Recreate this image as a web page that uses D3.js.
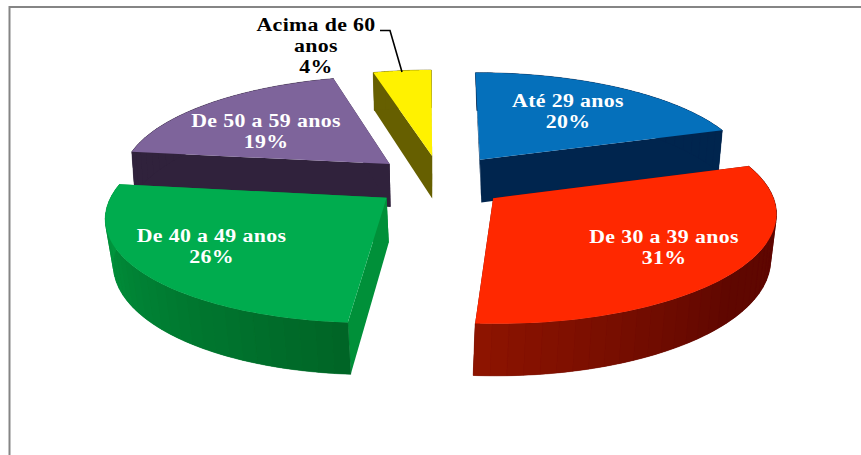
<!DOCTYPE html>
<html><head><meta charset="utf-8">
<style>html,body{margin:0;padding:0;background:#fff}svg{display:block}</style>
<script src="https://cdnjs.cloudflare.com/ajax/libs/d3/7.8.5/d3.min.js"></script>
</head><body><svg id="c" width="861" height="455"></svg>
<script>
// Data
const categories = ["Até 29 anos","De 30 a 39 anos","De 40 a 49 anos","De 50 a 59 anos","Acima de 60 anos"];
const shares = [20,31,26,19,4];
const explode = [0.2642,0.2583,0.2415,0.2524,0.2655];
// Colours
const topColors = ["#0570bb","#ff2800","#00ac4e","#7e649b","#fff200"];
const sideColors = ["#00254e","#650800","#009039","#30223c","#665f00"];
const bandDark = ["#00254e","#5f0700","#006426","#30223c","#665f00"];
const bandLight = ["#00254e","#8e1400","#009a40","#30223c","#665f00"];

const svg=d3.select("#c");
// Projection of the tilted pie plane
const P={cx:436.9,cy:182.4,rx:272.4,ry:103.9,pY:0.1327,pX:-0.0055,shear:3.86,depth:44};
// Small per-slice placement corrections of the exploded pieces
const nudge=[[1,-1],[0,-1],[2,-1],[2.5,-1.5],[3,0]];
const sliceShear=[-3,2,6,-6.5,-5];
const bottomVx=[544,323,490,512,437];
const bottomShrink=[0.978,0.987,0.979,0.992,0.984];
function project(X,Y){const w=1+P.pY*Y+P.pX*X;return {x:P.cx+(P.rx*X+P.shear*Y)/w,y:P.cy-P.ry*Y/w,w};}
const pie=d3.pie().sort(null).startAngle(0).endAngle(2*Math.PI);
const arcs=pie(shares);
const line=d3.line().x(d=>d[0]).y(d=>d[1]);
function ptTop(i,a,r){const mid=(arcs[i].startAngle+arcs[i].endAngle)/2,e=explode[i];
  const ly=r*Math.cos(a);
  const p=project(r*Math.sin(a)+e*Math.sin(mid),ly+e*Math.cos(mid));
  return {x:p.x+nudge[i][0]+sliceShear[i]*ly,y:p.y+nudge[i][1],w:p.w};}
const T=(i,a,r)=>{const p=ptTop(i,a,r);return [p.x,p.y];};
const B=(i,a,r)=>{const p=ptTop(i,a,r);return [bottomVx[i]+(p.x-bottomVx[i])*bottomShrink[i],p.y+P.depth/p.w];};
const angles=(s,e,n)=>d3.range(n+1).map(k=>s+(e-s)*k/n);

const drawOrder=[4,3,0,2,1];
const g=svg.append("g");
drawOrder.forEach(i=>{
  const a=arcs[i],s=a.startAngle,e=a.endAngle;
  const sl=g.append("g").attr("class","slice");
  [s,e].forEach(an=>{
    sl.append("path").attr("d",line([T(i,an,1),T(i,0,0),B(i,0,0),B(i,an,1)])+"Z")
      .attr("fill",sideColors[i]);
  });
  // outer band: a solid base, then shaded strips
  const color=d3.scaleLinear()
     .domain(i===1?[Math.PI*0.72,e]:[s,s+(e-s)*0.95])
     .range([bandDark[i],bandLight[i]]).clamp(true);
  const whole=angles(s,e,80);
  sl.append("path").attr("d",line(whole.map(x=>T(i,x,1)).concat(whole.map(x=>B(i,x,1)).reverse()))+"Z")
    .attr("fill",color((s+e)/2));
  const n=Math.max(4,Math.round((e-s)/(Math.PI/60)));
  const as=angles(s,e,n);
  for(let k=0;k<n;k++){
    const sub=angles(as[k],as[k+1],3);
    const ptsT=sub.map(x=>T(i,x,1)),ptsB=sub.map(x=>B(i,x,1)).reverse();
    const c=color((as[k]+as[k+1])/2);
    sl.append("path").attr("d",line(ptsT.concat(ptsB))+"Z").attr("fill",c)
      .attr("stroke",c).attr("stroke-width",0.5);
  }
  const rim=angles(s,e,80).map(x=>T(i,x,1));
  sl.append("path").attr("d",line([T(i,0,0)].concat(rim))+"Z").attr("fill",topColors[i]);
});

// Frame
svg.append("path").attr("d","M9.5,455V7H861").attr("fill","none").attr("stroke","#858585").attr("stroke-width",2);

// Leader
svg.append("path").attr("d","M380,30.5H390L402,72").attr("fill","none").attr("stroke","#000").attr("stroke-width",1.6);

// Labels
const labelLines=[[categories[0],shares[0]+"%"],[categories[1],shares[1]+"%"],[categories[2],shares[2]+"%"],[categories[3],shares[3]+"%"],["Acima de 60","anos",shares[4]+"%"]];
const labelAt=[[568,107],[664,243],[211.5,242],[266,127],[316,31]];
const labelFill=["#fff","#fff","#fff","#fff","#000"];
labelLines.forEach((ls,i)=>{
  const t=svg.append("text").attr("text-anchor","middle")
    .attr("transform",`translate(${labelAt[i][0]},${labelAt[i][1]}) scale(1.15,1)`)
    .attr("font-family","'Liberation Serif',serif").attr("font-weight","bold").attr("font-size",19)
    .attr("letter-spacing",0.3).attr("fill",labelFill[i]);
  ls.forEach((s,k)=>t.append("tspan").attr("x",0).attr("y",k*21).text(s));
});
</script></body></html>
